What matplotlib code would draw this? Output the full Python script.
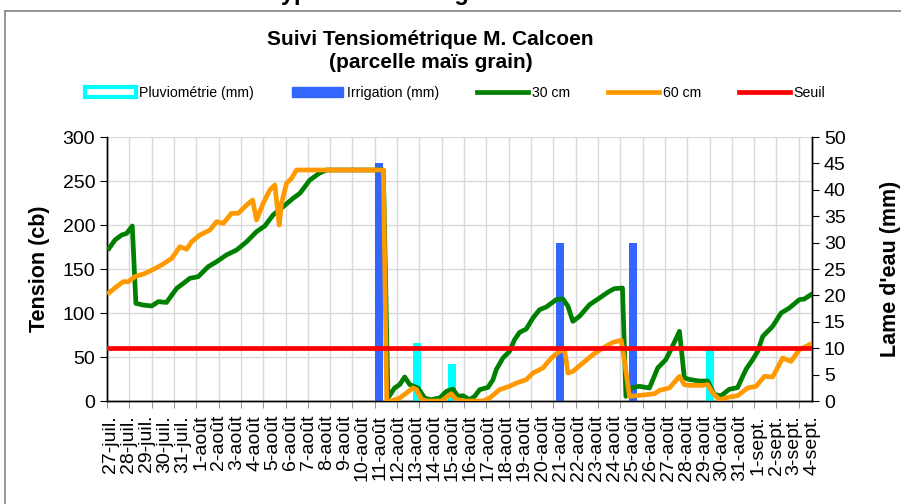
#!/usr/bin/env python3
"""Suivi tensiometrique M. Calcoen - parcelle mais grain."""

import matplotlib
matplotlib.use("Agg")
import matplotlib.pyplot as plt
import matplotlib.patches as mpatches
import matplotlib.lines as mlines
import numpy as np

plt.rcParams.update({
    "font.family": ["Liberation Sans", "DejaVu Sans"],
    "font.size": 14,
})

# x in days, 0 = 27-juil.
DATE_LABELS = ([f"{d}-juil." for d in range(27, 32)]
               + [f"{d}-août" for d in range(1, 32)]
               + [f"{d}-sept." for d in range(1, 5)])

# 30 cm probe (cb)
T30_DAY = [-0.09, 0.24, 0.61, 0.89, 1.2, 1.4, 1.81, 2.28, 2.65, 3.1, 3.67, 4.04,
           4.4, 4.87, 5.42, 5.89, 6.44, 7.0, 7.56, 8.11, 8.57, 9.03, 9.59, 10.14,
           10.52, 11.07, 11.59, 12.0, 15.16, 15.42, 15.79, 16.07, 16.35, 16.63,
           17.09, 17.46, 17.8, 18.3, 18.67, 19.03, 19.31, 19.59, 19.96, 20.24,
           20.52, 20.98, 21.26, 21.44, 21.81, 22.18, 22.46, 22.74, 23.11, 23.48,
           23.85, 24.22, 24.78, 25.15, 25.43, 25.7, 26.07, 26.63, 27.18, 27.64,
           28.0, 28.46, 28.65, 28.94, 29.4, 29.96, 30.42, 30.87, 31.15, 31.63,
           31.9, 32.18, 32.74, 33.2, 33.56, 33.93, 34.4, 34.86, 35.33, 35.7,
           35.98, 36.26, 36.81, 37.28, 37.74, 38.3, 38.57, 38.94]
T30_VAL = [173.5, 183, 188.6, 190.5, 198.9, 111, 109, 108, 112.9, 112, 128, 133.7,
           139.4, 141.3, 152.6, 158.3, 166, 171.6, 181, 192.4, 198.9, 211.4, 220.8,
           230.3, 236, 251, 258.7, 262.5, 262.5, 3.4, 14.8, 18.6, 27.3, 18.6,
           14.8, 3.4, 1.5, 3.4, 11, 13.6, 5.3, 6, 1.5, 5.3,
           12.9, 15.5, 24.2, 35.6, 48.8, 56.4, 69.7, 78, 81.8, 94.3,
           103.8, 106.8, 115.2, 115.9, 107.6, 90.5, 96.2, 109.5, 117, 123.5,
           127.6, 128.4, 5.3, 14.8, 16.7, 14.8, 37.5, 47, 58.3, 79.2,
           26.3, 24.5, 22.7, 22.7, 7.6, 5.7, 13.3, 15.2, 36, 47,
           56.4, 73.4, 84.8, 100, 105.7, 115.2, 115.9, 120.8]

# 60 cm probe (cb)
T60_DAY = [-0.09, 0.33, 0.7, 0.98, 1.35, 1.91, 2.37, 2.83, 3.39, 3.85, 4.22, 4.5,
           4.96, 5.52, 5.89, 6.26, 6.72, 7.09, 7.56, 7.89, 8.11, 8.48, 8.85, 9.13,
           9.37, 9.5, 9.78, 10.06, 10.33, 15.16, 15.35, 15.6, 16.07, 16.44, 16.81,
           17.0, 17.28, 17.6, 18.39, 18.94, 19.2, 19.6, 20.7, 21.07, 21.63, 22.18,
           22.56, 23.11, 23.48, 24.03, 24.5, 24.96, 25.24, 25.43, 25.7, 26.26,
           26.81, 27.37, 27.92, 28.39, 28.57, 28.85, 29.22, 29.78, 30.24, 30.52,
           31.07, 31.63, 31.9, 32.18, 32.92, 33.2, 33.48, 33.85, 34.4, 34.86,
           35.42, 35.89, 36.35, 36.81, 37.37, 37.83, 38.3, 38.94]
T60_VAL = [123, 130, 135.6, 135.6, 141.3, 145, 149.6, 154.5, 162, 175.4, 172.4, 181,
           188.6, 194.3, 203.8, 201.9, 213.3, 213.3, 222.7, 228.4, 205.7, 224.7,
           239.8, 245.5, 200, 224.7, 247.4, 253, 262.5, 262.5, 0, 0, 3.4, 9, 14.8,
           13, 1.9, 0, 0, 8.3, 2, 0, 0, 3.4, 12.9, 16.7,
           20.4, 24.2, 31.8, 37.4, 48.8, 56.4, 58.3, 31.8, 33.7, 43.2,
           52.6, 60.2, 66.6, 69, 45.5, 5.3, 6, 7.2, 8.3, 12.1,
           14.8, 28, 18.6, 17.8, 17.8, 18.6, 9.1, 1.5, 4.5, 6,
           14.8, 16.7, 28, 27.3, 48.8, 45, 58.3, 64.8]

SEUIL = 60  # cb

# water input (mm)
PLUIE_DAY = [17.03, 19.0, 33.35]
PLUIE_MM = [11, 7, 10]
IRRIG_DAY = [14.9, 25.0, 29.03]
IRRIG_MM = [45, 30, 30]

GREEN = "#008000"
ORANGE = "#FF9900"
RED = "#FF0000"
BLUE = "#3366FF"
CYAN = "#00FFFF"
GRID = "#D9D9D9"

W, H = 901, 504
fig = plt.figure(figsize=(W / 100, H / 100), dpi=100)

# outer chart frame (partly out of the picture)
fig.add_artist(mlines.Line2D([5 / W, 5 / W], [0, 1 - 11 / H], color="#8C8C8C",
                             lw=1.3, transform=fig.transFigure))
fig.add_artist(mlines.Line2D([5 / W, 1], [1 - 11 / H, 1 - 11 / H], color="#8C8C8C",
                             lw=1.3, transform=fig.transFigure))
# heading of the page, cut off at the top
fig.text(176 / W, 1.0, "Parcelle type en maïs irrigué", fontsize=17,
         fontweight="bold", ha="left", va="baseline")

ax = fig.add_axes([107 / W, 1 - 401 / H, (812 - 107) / W, (401 - 137) / H])
ax2 = ax.twinx()

x0, x1 = -0.206, 39.0
ax.set_xlim(x0, x1)
ax.set_ylim(0, 300)
ax2.set_ylim(0, 50)

# bars on the mm axis
ax2.bar(IRRIG_DAY, IRRIG_MM, width=0.44, color=BLUE, zorder=2)
ax2.bar(PLUIE_DAY, PLUIE_MM, width=0.44, color=CYAN, zorder=2)

# lines on the cb axis (drawn through ax2 coords to stay above bars)
ax2.plot(T30_DAY, np.array(T30_VAL) / 6, color=GREEN, lw=3.4, zorder=3,
         solid_joinstyle="round")
ax2.plot(T60_DAY, np.array(T60_VAL) / 6, color=ORANGE, lw=3.4, zorder=4,
         solid_joinstyle="round")
ax2.axhline(SEUIL / 6, color=RED, lw=3.4, zorder=5)

# grid
ax.set_yticks(np.arange(0, 301, 50))
ax.yaxis.grid(True, color=GRID, lw=1)
ax.set_xticks(np.arange(len(DATE_LABELS)))
ax.set_xticklabels(DATE_LABELS, rotation=90, ha="center", va="top")
ax.set_xticks(np.arange(x0, x1, 1.241), minor=True)
ax.xaxis.grid(True, which="minor", color=GRID, lw=1)
ax.tick_params(axis="x", which="major", length=0, pad=10)
ax.tick_params(axis="x", which="minor", length=5, color="#808080")
ax.tick_params(axis="y", length=5, labelsize=14)
ax.set_axisbelow(True)

ax2.set_yticks(np.arange(0, 51, 5))
ax2.tick_params(axis="y", length=5, labelsize=14)

for a in (ax, ax2):
    a.spines["top"].set_visible(False)
    for s in ("left", "right", "bottom"):
        a.spines[s].set_color("black")
        a.spines[s].set_linewidth(1)

ax.set_ylabel("Tension (cb)", fontweight="bold", fontsize=15.5, labelpad=9)
ax2.set_ylabel("Lame d'eau (mm)", fontweight="bold", fontsize=15.5, labelpad=25)

fig.text(0.478, 1 - 40 / H, "Suivi Tensiométrique M. Calcoen", fontsize=15,
         fontweight="bold", ha="center", va="center")
fig.text(0.478, 1 - 63 / H, "(parcelle maïs grain)", fontsize=15,
         fontweight="bold", ha="center", va="center")

handles = [
    mpatches.Patch(facecolor="white", edgecolor=CYAN, lw=3, label="Pluviométrie (mm)"),
    mpatches.Patch(facecolor=BLUE, edgecolor=BLUE, label="Irrigation (mm)"),
    mlines.Line2D([], [], color=GREEN, lw=3.4, label="30 cm"),
    mlines.Line2D([], [], color=ORANGE, lw=3.4, label="60 cm"),
    mlines.Line2D([], [], color=RED, lw=3.4, label="Seuil"),
]
fig.legend(handles=handles, loc="center", bbox_to_anchor=(455 / W, 1 - 93 / H),
           ncol=5, frameon=False, fontsize=10.2, handlelength=3.6,
           handletextpad=0.25, columnspacing=2.7, handleheight=0.8)

fig.savefig("out.png", dpi=100)
